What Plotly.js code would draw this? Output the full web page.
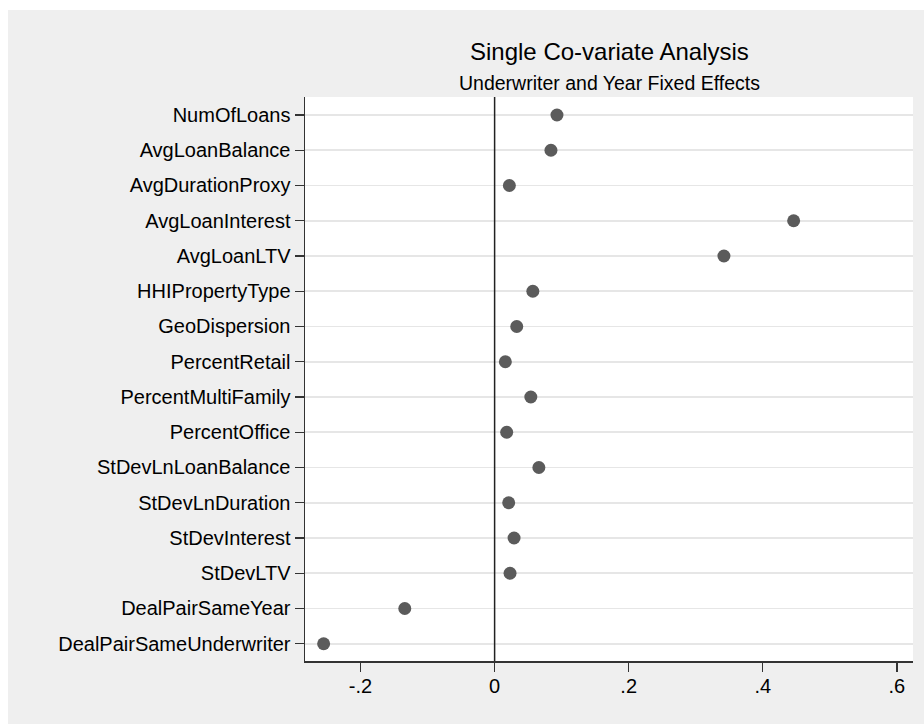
<!DOCTYPE html>
<html>
<head>
<meta charset="utf-8">
<script src="https://cdn.plot.ly/plotly-3.0.1.min.js"></script>
<style>
  html, body { margin: 0; padding: 0; background: #ffffff; width: 924px; height: 724px; overflow: hidden; }
  #chart { position: absolute; left: 8px; top: 10px; width: 916px; height: 714px; }
</style>
</head>
<body>
<div id="chart"></div>
<script>
const variables = [
  "NumOfLoans", "AvgLoanBalance", "AvgDurationProxy", "AvgLoanInterest", "AvgLoanLTV",
  "HHIPropertyType", "GeoDispersion", "PercentRetail", "PercentMultiFamily", "PercentOffice",
  "StDevLnLoanBalance", "StDevLnDuration", "StDevInterest", "StDevLTV",
  "DealPairSameYear", "DealPairSameUnderwriter"
];
const coefficients = [
  0.093, 0.084, 0.022, 0.446, 0.342,
  0.057, 0.033, 0.016, 0.054, 0.018,
  0.066, 0.021, 0.029, 0.023,
  -0.134, -0.255
];
const xTickVals = [-0.2, 0, 0.2, 0.4, 0.6];
const xTickText = ["-.2", "0", ".2", ".4", ".6"];
const chartTitle = "Single Co-variate Analysis";
const chartSubtitle = "Underwriter and Year Fixed Effects";

const FONT = '"Liberation Sans", Arial, Helvetica, sans-serif';

const trace = {
  type: 'scatter',
  mode: 'markers',
  x: coefficients,
  y: variables,
  marker: { color: '#5b5b5b', size: 13, line: { width: 0 } },
  hoverinfo: 'x+y',
  showlegend: false
};

const layout = {
  width: 916,
  height: 714,
  paper_bgcolor: '#efefef',
  plot_bgcolor: '#ffffff',
  margin: { l: 297, r: 11, t: 87, b: 63, pad: 0 },
  font: { family: FONT, size: 20, color: '#000000' },
  showlegend: false,
  xaxis: {
    range: [-0.2828, 0.624],
    tickmode: 'array',
    tickvals: xTickVals,
    ticktext: xTickText,
    showgrid: false,
    zeroline: false,
    showline: true,
    linecolor: '#333333',
    linewidth: 1.5,
    ticks: 'outside',
    ticklen: 9,
    tickwidth: 1.3,
    tickcolor: '#333333',
    ticklabelstandoff: -3,
    tickfont: { family: FONT, size: 20, color: '#000000' },
    fixedrange: true
  },
  yaxis: {
    type: 'category',
    categoryorder: 'array',
    categoryarray: variables,
    range: [15.49, -0.51],
    showgrid: true,
    gridcolor: '#e6e6e6',
    gridwidth: 1.6,
    zeroline: false,
    showline: true,
    linecolor: '#333333',
    linewidth: 1.5,
    ticks: 'outside',
    ticklen: 9,
    tickwidth: 1.3,
    tickcolor: '#333333',
    tickfont: { family: FONT, size: 20, color: '#000000' },
    fixedrange: true
  },
  shapes: [
    {
      type: 'line', xref: 'x', yref: 'paper',
      x0: 0, x1: 0, y0: 0, y1: 1,
      line: { color: '#222222', width: 1.5 }
    }
  ],
  annotations: [
    {
      text: chartTitle, xref: 'paper', yref: 'paper',
      x: 0.5, y: 1.0804, xanchor: 'center', yanchor: 'middle',
      showarrow: false, font: { family: FONT, size: 24, color: '#000000' }
    },
    {
      text: chartSubtitle, xref: 'paper', yref: 'paper',
      x: 0.5, y: 1.0248, xanchor: 'center', yanchor: 'middle',
      showarrow: false, font: { family: FONT, size: 19.5, color: '#000000' }
    }
  ]
};

Plotly.newPlot('chart', [trace], layout, { displayModeBar: false, staticPlot: true });
</script>
</body>
</html>
